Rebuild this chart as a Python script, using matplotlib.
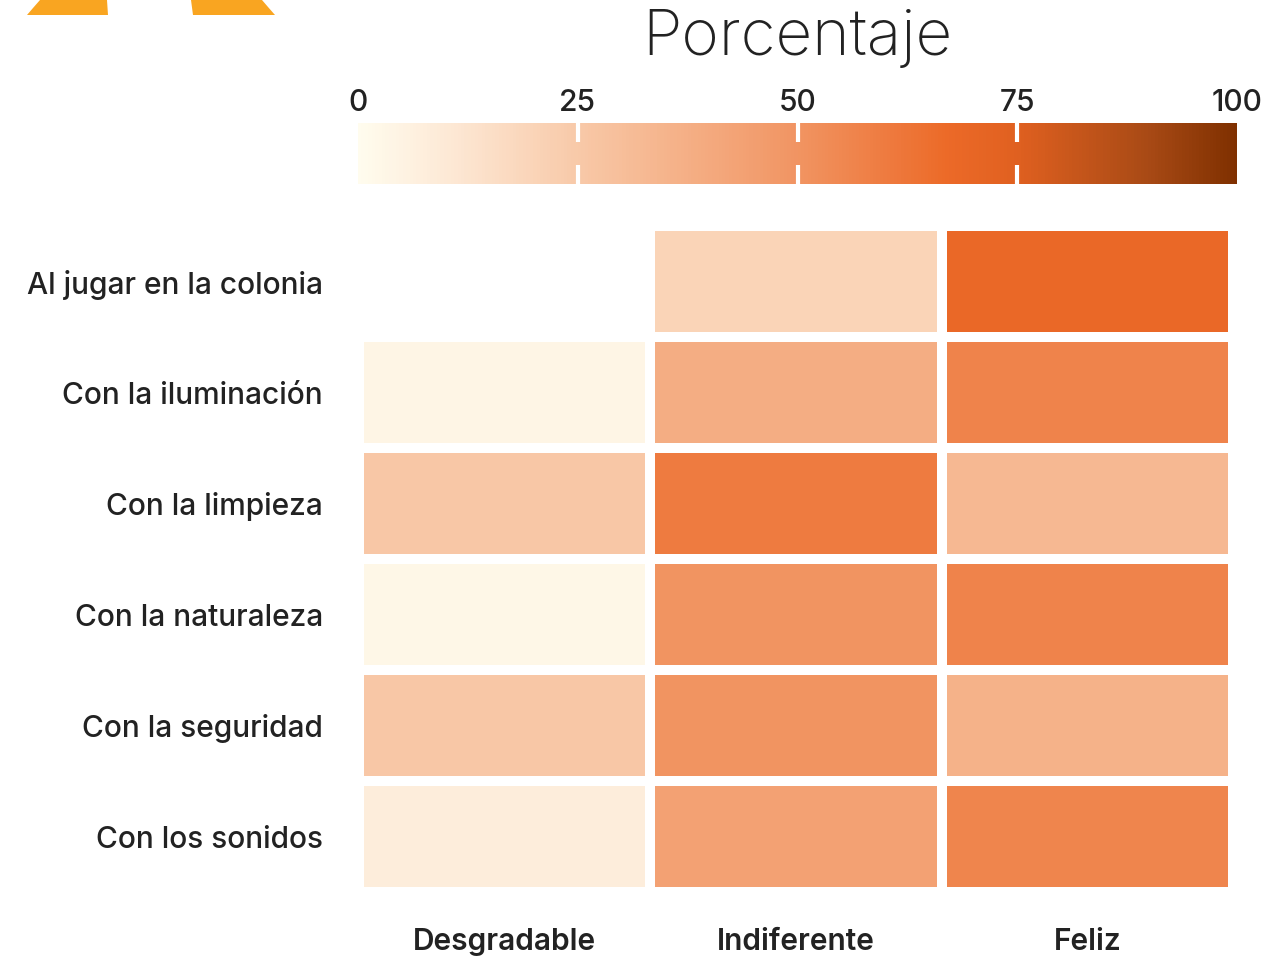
import numpy as np
import matplotlib.pyplot as plt
from matplotlib.colors import LinearSegmentedColormap
from matplotlib.patches import Polygon

# --- Datos (porcentaje estimado por celda)
filas = ["Al jugar en la colonia", "Con la iluminación", "Con la limpieza",
         "Con la naturaleza", "Con la seguridad", "Con los sonidos"]
columnas = ["Desgradable", "Indiferente", "Feliz"]
desgradable = [np.nan, 4, 26, 3, 26, 8]
indiferente = [20, 38, 60, 50, 50, 44]
feliz = [68, 57, 33, 57, 36, 56]
ticks_cbar = [0, 25, 50, 75, 100]

valores = np.column_stack([desgradable, indiferente, feliz])
valores = np.ma.masked_invalid(valores)

# --- Escala de color
cmap = LinearSegmentedColormap.from_list("naranjas", [
    (0.00, "#fffcee"), (0.10, "#fde9d6"), (0.25, "#f8c9a8"),
    (0.50, "#f19462"), (0.67, "#ec6a28"), (0.75, "#e06020"),
    (0.90, "#a84a15"), (1.00, "#7f3000")])

plt.rcParams['font.family'] = ['Inter', 'DejaVu Sans']
texto = "#222222"

fig = plt.figure(figsize=(12.73, 9.6), dpi=100)

# --- Heatmap
ax = fig.add_axes([359 / 1273, 1 - 892 / 960, 874 / 1273, 666 / 960])
malla = ax.pcolormesh(valores, cmap=cmap, vmin=0, vmax=100,
                      edgecolors="white", linewidth=6)
ax.set_xlim(0, 3)
ax.set_ylim(6, 0)
ax.set_yticks(np.arange(len(filas)) + 0.5)
ax.set_yticklabels(filas, fontsize=21.5, color=texto, fontweight="medium")
ax.set_xticks(np.arange(len(columnas)) + 0.5)
ax.set_xticklabels(columnas, fontsize=21.5, color=texto, fontweight="semibold")
ax.tick_params(length=0)
ax.tick_params(axis="y", pad=26)
ax.tick_params(axis="x", pad=26)
for s in ax.spines.values():
    s.set_visible(False)

# --- Barra de color
cax = fig.add_axes([358 / 1273, 1 - 184 / 960, 879 / 1273, 61 / 960])
cb = fig.colorbar(malla, cax=cax, orientation="horizontal", ticklocation="top")
cb.outline.set_visible(False)
cb.set_ticks(ticks_cbar)
cax.tick_params(axis="x", direction="in", length=14, width=3, color="white",
                top=True, bottom=True, labeltop=True, labelbottom=False,
                labelsize=21.5, labelcolor=texto, pad=4)
for lbl in cax.get_xticklabels():
    lbl.set_fontweight("medium")
for t in (cax.xaxis.get_major_ticks()[0], cax.xaxis.get_major_ticks()[-1]):
    t.tick1line.set_visible(False)
    t.tick2line.set_visible(False)

fig.text(797 / 1273, 1 - 38 / 960, "Porcentaje", ha="center", va="center",
         fontsize=46, fontweight="light", color=texto)

# --- Logo recortado arriba a la izquierda
naranja = "#f9a521"
izq = [(27, 15), (108, 15), (107, 0), (40, 0), (33, 8)]
der = [(193, 15), (275, 15), (268, 7), (262, 0), (191, 0)]
for forma in (izq, der):
    pts = [(x / 1273, 1 - y / 960) for x, y in forma]
    fig.patches.append(Polygon(pts, closed=True, transform=fig.transFigure,
                               facecolor=naranja, edgecolor="none"))

fig.savefig("out.png", dpi=100)
